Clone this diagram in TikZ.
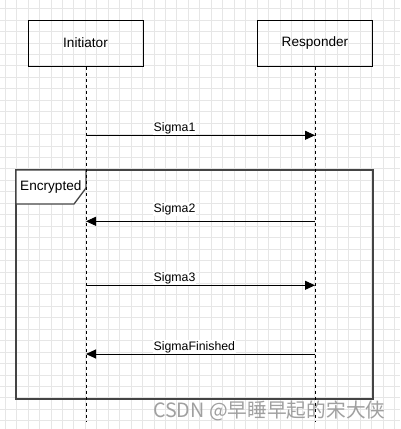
\documentclass[tikz,border=0pt]{standalone}
\usepackage{fontspec}
\setmainfont{Liberation Sans}
\newfontfamily\cjkfont{Noto Sans CJK SC}
\usetikzlibrary{arrows.meta}
\definecolor{gridc}{HTML}{E6E6E6}
\definecolor{framec}{HTML}{444444}
\definecolor{wmark}{HTML}{A0A0A0}
\tikzset{
  x=1pt, y=-1pt,
  actor/.style={draw=black, line width=1pt, minimum width=115pt, minimum height=46pt, inner sep=0pt, font=\fontsize{13.6}{16}\selectfont},
  lifeline/.style={line width=0.9pt, dash pattern=on 3pt off 3pt},
  msg/.style={line width=1pt, -{Triangle[length=10pt,width=9pt]}},
  msglabel/.style={anchor=base west, fill=white, inner xsep=1pt, inner ysep=1pt, font=\fontsize{12.3}{14}\selectfont},
  framebox/.style={draw=framec, line width=1.3pt},
}
\begin{document}
\begin{tikzpicture}
\useasboundingbox (0,0) rectangle (400,429);
\fill[white] (0,0) rectangle (400,429);
% grid
\foreach \k in {-2,...,32} {\draw[gridc, line width=0.8pt] ({28+\k*11.45},0) -- ({28+\k*11.45},429);}
\foreach \k in {-1,...,36} {\draw[gridc, line width=0.8pt] (0,{20+\k*11.45}) -- (400,{20+\k*11.45});}
% actors
\node[actor] (ini) at (85.5,43) {Initiator};
\node[actor] (res) at (315,43) {Responder};
\coordinate (iniend) at (86,422);
\coordinate (resend) at (315,422);
% frame
\draw[framebox] (16,170) rectangle (373,399);
\draw[framebox, fill=white] (16,170) -- (86,170) -- (86,188) -- (74,204) -- (16,204) -- cycle;
\node[anchor=base west, inner sep=0pt, font=\fontsize{13.6}{16}\selectfont] (enc) at (20,190.5) {Encrypted};
% lifelines
\draw[lifeline] (ini.south -| iniend) -- (iniend);
\draw[lifeline] (res.south) -- (resend);
% messages
\coordinate (i1) at (86,135.3); \coordinate (r1) at (315,135.3);
\coordinate (i2) at (86,221.3); \coordinate (r2) at (315,221.3);
\coordinate (i3) at (86,285.3); \coordinate (r3) at (315,285.3);
\coordinate (i4) at (86,354); \coordinate (r4) at (315,354);
\draw[msg] (i1) -- (r1);
\draw[msg] (r2) -- (i2);
\draw[msg] (i3) -- (r3);
\draw[msg] (r4) -- (i4);
\node[msglabel] (l1) at (152.5,131.7) {Sigma1};
\node[msglabel] (l2) at (152.5,212.2) {Sigma2};
\node[msglabel] (l3) at (152.5,281.7) {Sigma3};
\node[msglabel] (l4) at (152.5,350) {SigmaFinished};
% watermark
\node[anchor=base west, inner sep=0pt, text=wmark, font=\cjkfont\fontsize{19.7}{22}\selectfont] (wm) at (153,417.5) {CSDN @早睡早起的宋大侠};
\end{tikzpicture}
\end{document}
